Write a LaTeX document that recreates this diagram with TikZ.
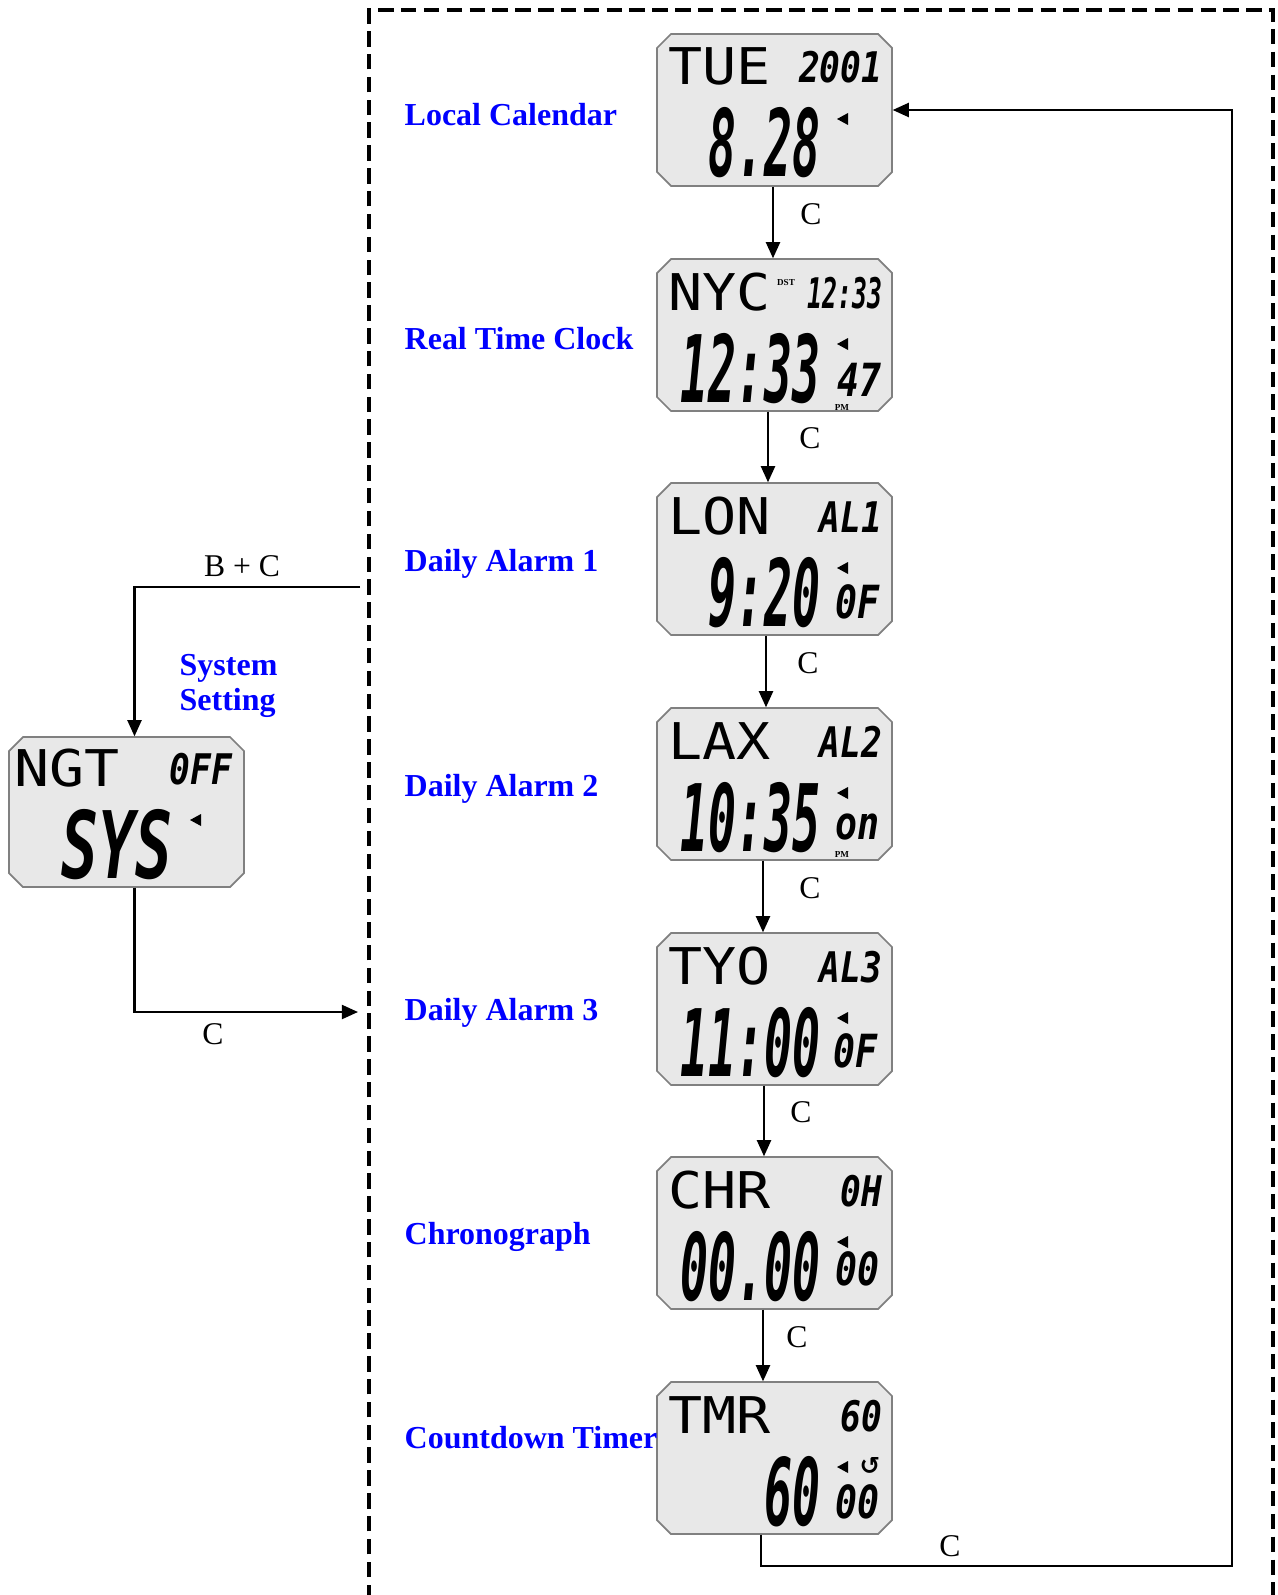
\documentclass[tikz,border=0pt]{standalone}
\usepackage{fontspec}
\setmainfont{Liberation Serif}
\newfontfamily\lcdfont{DejaVu Sans Mono}
\newfontfamily\arrowsfont{DejaVu Sans}
\usetikzlibrary{positioning,calc,arrows.meta}

\begin{document}
\begin{tikzpicture}[
    x=0.1mm, y=-0.1mm,
    lcd/.style={rectangle, minimum width=23.5mm, minimum height=15.2mm, inner sep=0pt},
    lcdface/.style={draw=black!50, fill=black!9, line width=0.5pt},
    dotmx/.style={font=\lcdfont\fontsize{14.4}{15}\selectfont, inner sep=0pt, anchor=base west},
    segsmall/.style={font=\lcdfont\bfseries\itshape\fontsize{12}{13}\selectfont, inner sep=0pt, anchor=base east},
    segsub/.style={segsmall, font=\lcdfont\bfseries\itshape\fontsize{13}{14}\selectfont},
    segbig/.style={font=\lcdfont\bfseries\itshape\fontsize{26.5}{27}\selectfont, inner sep=0pt, anchor=base east},
    tinytext/.style={font=\bfseries\fontsize{2.6}{2.6}\selectfont, inner sep=0pt},
    modelabel/.style={font=\bfseries\fontsize{9.1}{10.2}\selectfont, text=blue, anchor=west, inner sep=0pt, align=left},
    btn/.style={font=\fontsize{9}{10}\selectfont, inner sep=0pt},
    arr/.style={draw=black, line width=0.6pt, -{Triangle[length=4.6pt,width=4pt]}},
    frame/.style={draw=black, line width=1.05pt, dash pattern=on 4.4pt off 2.1pt}
]
\useasboundingbox (0,0) rectangle (1278,1595);

% Mode group
\draw[frame] (369,1600) -- (369,10) -- (1273,10) -- (1273,1600);

% Screens
\foreach \n/\sy/\ulab/\urt/\bnum/\mlab/\my in {
    1/34/TUE/2001/8.28/Local Calendar/115,
    2/259/NYC/{\scalebox{0.72}[1]{12:33}}/12:33/Real Time Clock/339,
    3/483/LON/AL1/9:20/Daily Alarm 1/564,
    4/708/LAX/AL2/10:35/Daily Alarm 2/789,
    5/933/TYO/AL3/11:00/Daily Alarm 3/1013,
    6/1157/CHR/0H/00.00/Chronograph/1237,
    7/1382/TMR/60/60/Countdown Timer/1438} {
    \begin{scope}[shift={(657,\sy)}]
        \filldraw[lcdface] (14,0) -- (221,0) -- (235,14) -- (235,138) -- (221,152)
            -- (14,152) -- (0,138) -- (0,14) -- cycle;
        \node[lcd] (s\n) at (117.5,76) {};
        \node[dotmx] (t\n) at (11,51) {\scalebox{1.12}[1]{\ulab}};
        \node[segsmall] (r\n) at (226,49) {\scalebox{0.82}[1]{\urt}};
        \node[segbig] (b\n) at (164,143) {\scalebox{0.5}[1]{\bnum}};
        \fill (180,85) -- (191,79) -- (191,91) -- cycle;
    \end{scope}
    \node[modelabel] (m\n) at (404,\my) {\mlab};
}

% Real Time Clock
\begin{scope}[shift={(657,259)}]
    \node[segsub] (x2) at (225,137) {\scalebox{0.8}[1]{47}};
    \node[tinytext] (dst) at (129,24) {DST};
    \node[tinytext] (pm2) at (185,149) {PM};
\end{scope}

% Daily Alarm 1
\begin{scope}[shift={(657,483)}]
    \node[segsub] (x3) at (223,135) {\scalebox{0.8}[1]{0F}};
\end{scope}

% Daily Alarm 2
\begin{scope}[shift={(657,708)}]
    \node[segsub] (x4) at (223,131) {\scalebox{0.8}[1]{on}};
    \node[tinytext] (pm4) at (185,146) {PM};
\end{scope}

% Daily Alarm 3
\begin{scope}[shift={(657,933)}]
    \node[segsub] (x5) at (221,134) {\scalebox{0.8}[1]{0F}};
\end{scope}

% Chronograph
\begin{scope}[shift={(657,1157)}]
    \node[segsub] (x6) at (223,128) {\scalebox{0.8}[1]{00}};
\end{scope}

% Countdown Timer
\begin{scope}[shift={(657,1382)}]
    \node[segsub] (x7) at (223,136) {\scalebox{0.8}[1]{00}};
    \node[inner sep=0pt, font=\arrowsfont\bfseries\fontsize{7}{7}\selectfont] (rep) at (213,84) {↺};
\end{scope}

% System Setting
\begin{scope}[shift={(9,737)}]
    \filldraw[lcdface] (14,0) -- (221,0) -- (235,14) -- (235,136) -- (221,150)
        -- (14,150) -- (0,136) -- (0,14) -- cycle;
    \node[lcd, minimum height=15mm] (sys) at (117.5,75) {};
    \node[dotmx] (tsys) at (5,49) {\scalebox{1.15}[1]{NGT}};
    \node[segsmall] (rsys) at (224,47) {\scalebox{0.82}[1]{0FF}};
    \node[segbig] (bsys) at (164,141) {\scalebox{0.66}[1]{SYS}};
    \fill (181,83) -- (192,77) -- (192,89) -- cycle;
\end{scope}
\node[modelabel] (msys) at (179,686) {System\\Setting};

% C steps down the column
\foreach \a/\b/\dx/\cx in {1/2/-1.5/3.8, 2/3/-6.5/4.2, 3/4/-8.5/4.2,
    4/5/-11.5/4.7, 5/6/-10.5/3.7, 6/7/-11.5/3.4} {
    \draw[arr] ($(s\a.south)+(\dx,0)$) -- node[btn, pos=0.38, xshift=\cx mm] (c\a) {C}
        ($(s\b.north)+(\dx,0)$);
}

% back to the top
\coordinate (br) at (1232,1566);
\draw[arr] ($(s7.south)+(-13.5,0)$) |- (br) |- (s1.east);
\node[btn] (c7) at (950,1546) {C};

% in and out of System Setting
\coordinate (bcin) at (360,587);
\draw[arr] (bcin) -| ($(sys.north)+(8,0)$);
\node[btn] (bc) at (242,566) {B + C};
\coordinate (cout) at (358,1012);
\draw[arr] ($(sys.south)+(8,0)$) |- (cout);
\node[btn] (c8) at (213,1034) {C};

\end{tikzpicture}
\end{document}
